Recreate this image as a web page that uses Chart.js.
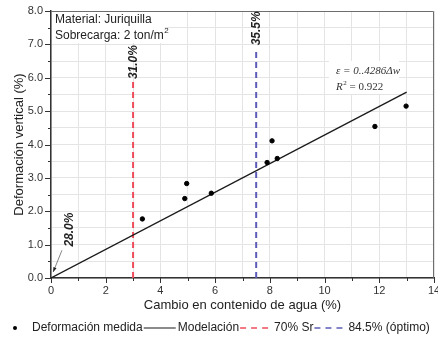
<!DOCTYPE html>
<html>
<head>
<meta charset="utf-8">
<script src="https://cdn.jsdelivr.net/npm/chart.js@4"></script>
<style>
  html, body { margin: 0; padding: 0; background: #fff; }
  #wrap { width: 438px; height: 339px; }
</style>
</head>
<body>
<div id="wrap"><canvas id="c" width="438" height="339"></canvas></div>
<script>
// ---- data ----
const measuredX = [3.34, 4.89, 4.96, 5.86, 7.90, 8.08, 8.27, 11.84, 12.98];
const measuredY = [1.77, 2.38, 2.83, 2.54, 3.46, 4.11, 3.58, 4.54, 5.15];
const modelX = [0, 13.0];
const modelY = [0, 5.57];
const sr70X = [3.0, 3.0];
const sr70Y = [0, 5.88];
const optX = [7.5, 7.5];
const optY = [0, 6.83];
const legendLabels = ['Deformación medida', 'Modelación', '70% Sr', '84.5% (óptimo)'];
const lineLabels = ['31.0%', '35.5%', '28.0%'];
const lineLabelX = [3.0, 7.5, 0.66];
const lineLabelY = [6.47, 7.48, 1.45];
const infoLines = ['Material: Juriquilla', 'Sobrecarga: 2 ton/m'];
const eqLines = ['ε = 0..4286Δw', 'R', ' = 0.922'];
const xTitle = 'Cambio en contenido de agua (%)';
const yTitle = 'Deformación vertical (%)';

const RED = '#ee4d5c';
const BLUE = '#5c5cb8';
const FONT = '"Liberation Sans", Arial, sans-serif';

function pts(xs, ys) { return xs.map((x, i) => ({ x: x, y: ys[i] })); }

const decor = {
  id: 'decor',
  beforeDatasetsDraw(chart) {
    const ctx = chart.ctx;
    const xs = chart.scales.x, ys = chart.scales.y;
    const a = chart.chartArea;
    ctx.save();
    // white boxes behind texts
    ctx.fillStyle = '#fff';
    ctx.fillRect(a.left + 1, a.top + 1, 113, 31);
    ctx.fillRect(329, 61, 70, 33);
    // top / right frame
    ctx.strokeStyle = '#6e6e6e';
    ctx.lineWidth = 1;
    ctx.beginPath();
    ctx.moveTo(a.left, a.top + 0.5); ctx.lineTo(a.right - 0.5, a.top + 0.5); ctx.lineTo(a.right - 0.5, a.bottom);
    ctx.stroke();
    // tick marks (major + minor), outward
    ctx.strokeStyle = '#333';
    ctx.lineWidth = 1;
    ctx.beginPath();
    for (let v = 0; v <= 14; v += 1) {
      const px = Math.round(xs.getPixelForValue(v)) + 0.5;
      const len = (v % 2 === 0) ? 5 : 3;
      ctx.moveTo(px, a.bottom); ctx.lineTo(px, a.bottom + len);
    }
    for (let v = 0; v <= 8; v += 0.5) {
      const py = Math.round(ys.getPixelForValue(v)) + 0.5;
      const len = (v % 1 === 0) ? 6 : 3;
      ctx.moveTo(a.left, py); ctx.lineTo(a.left - len, py);
    }
    ctx.stroke();
    // info text
    ctx.fillStyle = '#222';
    ctx.font = '12px ' + FONT;
    ctx.textBaseline = 'middle';
    ctx.textAlign = 'left';
    ctx.fillText(infoLines[0], 55, 19.5);
    ctx.fillText(infoLines[1], 55, 35.5);
    const w = ctx.measureText(infoLines[1]).width;
    ctx.font = '8px ' + FONT;
    ctx.fillText('2', 55 + w + 0.5, 31);
    // equation
    ctx.fillStyle = '#333';
    ctx.font = 'italic 11px "Liberation Serif", "Times New Roman", serif';
    ctx.fillText(eqLines[0], 336, 71);
    ctx.fillText(eqLines[1], 336, 87);
    const rw = ctx.measureText(eqLines[1]).width;
    ctx.font = '7px "Liberation Serif", serif';
    ctx.fillText('2', 336 + rw + 0.5, 83);
    ctx.font = '11px "Liberation Serif", "Times New Roman", serif';
    ctx.fillText(eqLines[2], 336 + rw + 4, 87);
    // rotated labels
    ctx.font = 'bold italic 12px ' + FONT;
    ctx.fillStyle = '#222';
    ctx.textAlign = 'center';
    for (let i = 0; i < lineLabels.length; i++) {
      const px = xs.getPixelForValue(lineLabelX[i]) + 1;
      const py = ys.getPixelForValue(lineLabelY[i]);
      ctx.save();
      ctx.translate(px, py);
      ctx.rotate(-Math.PI / 2);
      ctx.fillText(lineLabels[i], 0, 0);
      ctx.restore();
    }
    // arrow for 28.0%
    const ax1 = xs.getPixelForValue(0.40), ay1 = ys.getPixelForValue(0.83);
    const ax2 = xs.getPixelForValue(0.08), ay2 = ys.getPixelForValue(0.18);
    ctx.strokeStyle = '#666';
    ctx.lineWidth = 0.8;
    ctx.beginPath(); ctx.moveTo(ax1, ay1); ctx.lineTo(ax2, ay2); ctx.stroke();
    const ang = Math.atan2(ay2 - ay1, ax2 - ax1);
    ctx.fillStyle = '#222';
    ctx.beginPath();
    ctx.moveTo(ax2, ay2);
    ctx.lineTo(ax2 - 5 * Math.cos(ang - 0.35), ay2 - 5 * Math.sin(ang - 0.35));
    ctx.lineTo(ax2 - 5 * Math.cos(ang + 0.35), ay2 - 5 * Math.sin(ang + 0.35));
    ctx.closePath(); ctx.fill();
    ctx.restore();
  },
  afterDraw(chart) {
    // legend row
    const ctx = chart.ctx;
    const ds = chart.data.datasets;
    const y = 328;
    ctx.save();
    ctx.font = '12px ' + FONT;
    ctx.textBaseline = 'middle';
    ctx.textAlign = 'left';
    let x = 15;
    // item 0: marker
    ctx.fillStyle = '#000';
    ctx.beginPath(); ctx.arc(x, y, 2, 0, Math.PI * 2); ctx.fill();
    x = 32;
    for (let i = 0; i < legendLabels.length; i++) {
      if (i > 0) {
        ctx.strokeStyle = ds[i].borderColor;
        ctx.lineWidth = i === 1 ? 1.2 : 1.5;
        ctx.setLineDash(i === 1 ? [] : [6, 5]);
        ctx.beginPath(); ctx.moveTo(x + 1, y); ctx.lineTo(x + 33, y); ctx.stroke();
        ctx.setLineDash([]);
        x += 35;
      }
      ctx.fillStyle = '#222';
      ctx.fillText(legendLabels[i], x, y);
      x += ctx.measureText(legendLabels[i]).width;
    }
    ctx.restore();
  }
};

new Chart(document.getElementById('c'), {
  type: 'scatter',
  data: {
    datasets: [
      { label: legendLabels[0], data: pts(measuredX, measuredY), backgroundColor: '#000', borderColor: '#000', pointRadius: 2.2, pointHoverRadius: 2.2 },
      { type: 'line', label: legendLabels[1], data: pts(modelX, modelY), borderColor: '#1a1a1a', borderWidth: 1.3, pointRadius: 0, fill: false },
      { type: 'line', label: legendLabels[2], data: pts(sr70X, sr70Y), borderColor: RED, borderWidth: 2, borderDash: [6, 4], pointRadius: 0, fill: false },
      { type: 'line', label: legendLabels[3], data: pts(optX, optY), borderColor: BLUE, borderWidth: 2, borderDash: [6, 4], pointRadius: 0, fill: false }
    ]
  },
  options: {
    responsive: false,
    animation: false,
    devicePixelRatio: 1,
    layout: { padding: { top: 11, right: 4, left: 0, bottom: 0 } },
    plugins: { legend: { display: false }, tooltip: { enabled: false } },
    scales: {
      x: {
        type: 'linear', min: 0, max: 14,
        afterFit(s) { s.height = 61; s.paddingLeft = 0; s.paddingRight = 0; },
        ticks: { stepSize: 1, autoSkip: false, maxRotation: 0, padding: 6, color: '#333',
          font: { size: 11, family: FONT },
          callback: v => (v % 2 === 0 ? String(v) : '') },
        grid: { color: '#e4e4e4', lineWidth: 1, drawTicks: false },
        border: { color: '#333', width: 1.5 },
        title: { display: true, text: xTitle, color: '#222', font: { size: 13, family: FONT }, padding: { top: 0, bottom: 26 } }
      },
      y: {
        type: 'linear', min: 0, max: 8,
        afterFit(s) { s.width = 51; s.paddingTop = 0; s.paddingBottom = 0; },
        ticks: { stepSize: 0.5, autoSkip: false, padding: 8, color: '#333',
          font: { size: 11, family: FONT },
          callback: v => (v % 1 === 0 ? v.toFixed(1) : '') },
        grid: { color: '#e4e4e4', lineWidth: 1, drawTicks: false },
        border: { color: '#333', width: 1.5 },
        title: { display: true, text: yTitle, color: '#222', font: { size: 13, family: FONT }, padding: { top: 12, bottom: 0 } }
      }
    }
  },
  plugins: [decor]
});
</script>
</body>
</html>
